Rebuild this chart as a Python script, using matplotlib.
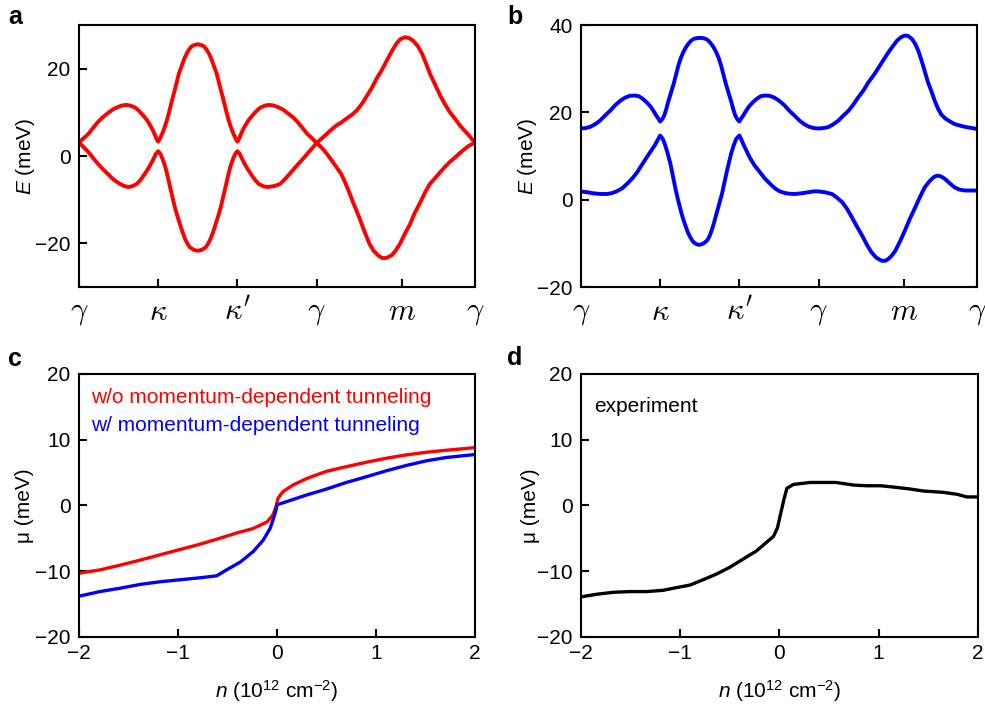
import matplotlib
matplotlib.use("Agg")
from matplotlib import pyplot as plt

plt.rcParams["font.family"] = ["Liberation Sans", "DejaVu Sans"]
plt.rcParams["font.size"] = 15
plt.rcParams["mathtext.fontset"] = "custom"
plt.rcParams["mathtext.rm"] = "Liberation Sans"
plt.rcParams["mathtext.it"] = "Liberation Sans:italic"
plt.rcParams["mathtext.bf"] = "Liberation Sans:bold"

# band path ticks
path_pos = [0, 1, 2, 3, 4.08, 5]
path_labels = [r"$\gamma$", r"$\kappa$", r"$\kappa'$", r"$\gamma$", r"$m$", r"$\gamma$"]

# panel a (w/o momentum-dependent tunneling), two bands crossing at gamma
k_a1 = [0.00, 0.06, 0.12, 0.18, 0.24, 0.30, 0.37, 0.43, 0.50, 0.55,
        0.60, 0.65, 0.71, 0.76, 0.81, 0.86, 0.90, 0.93, 0.96, 0.98,
        1.00, 1.02, 1.05, 1.08, 1.11, 1.14, 1.17, 1.20, 1.23, 1.26,
        1.30, 1.33, 1.36, 1.39, 1.42, 1.46, 1.50, 1.54, 1.58, 1.61,
        1.64, 1.67, 1.70, 1.74, 1.77, 1.80, 1.83, 1.86, 1.89, 1.92,
        1.95, 1.98, 2.00, 2.02, 2.04, 2.07, 2.10, 2.14, 2.19, 2.24,
        2.29, 2.35, 2.40, 2.45, 2.50, 2.57, 2.63, 2.70, 2.76, 2.82,
        2.88, 2.94, 3.00, 3.07, 3.13, 3.19, 3.25, 3.31, 3.36, 3.41,
        3.46, 3.52, 3.57, 3.62, 3.67, 3.72, 3.78, 3.82, 3.86, 3.90,
        3.95, 4.00, 4.05, 4.11, 4.18, 4.24, 4.31, 4.37, 4.43, 4.50,
        4.56, 4.62, 4.68, 4.75, 4.81, 4.87, 4.92, 4.96, 5.00]
E_a1 = [3.1, 4.1, 5.1, 6.5, 7.8, 8.9, 9.9, 10.7, 11.3, 11.6,
        11.7, 11.55, 11.1, 10.3, 9.3, 8.2, 7.0, 6.0, 4.8, 3.9,
        3.3, 3.9, 5.1, 6.5, 8.2, 10.2, 12.4, 14.5, 16.6, 18.8,
        20.8, 22.3, 23.5, 24.4, 25.1, 25.45, 25.6, 25.45, 25.1, 24.4,
        23.5, 22.3, 20.8, 18.8, 16.6, 14.5, 12.4, 10.2, 8.2, 6.5,
        5.1, 3.9, 3.3, 3.9, 4.8, 6.0, 7.0, 8.2, 9.3, 10.3,
        11.1, 11.55, 11.7, 11.6, 11.3, 10.7, 9.9, 8.9, 7.8, 6.5,
        5.1, 4.1, 3.0, 1.8, 0.5, -1.0, -2.5, -4.1, -6.0, -8.2,
        -10.6, -13.2, -15.6, -18.0, -20.2, -21.7, -22.8, -23.3, -23.4, -23.2,
        -22.7, -21.6, -20.2, -18.0, -15.6, -13.0, -10.6, -8.3, -6.4, -5.0,
        -3.7, -2.5, -1.4, -0.3, 0.7, 1.6, 2.3, 2.7, 3.0]
k_a2 = [0.00, 0.06, 0.12, 0.18, 0.24, 0.30, 0.37, 0.43, 0.50, 0.56,
        0.62, 0.67, 0.73, 0.78, 0.83, 0.88, 0.92, 0.95, 0.97, 1.00,
        1.02, 1.035, 1.06, 1.09, 1.12, 1.15, 1.18, 1.21, 1.245, 1.28,
        1.31, 1.34, 1.37, 1.40, 1.45, 1.50, 1.55, 1.60, 1.63, 1.66,
        1.69, 1.72, 1.755, 1.79, 1.82, 1.85, 1.88, 1.91, 1.94, 1.965,
        1.98, 2.00, 2.03, 2.05, 2.08, 2.12, 2.17, 2.22, 2.27, 2.33,
        2.38, 2.46, 2.54, 2.60, 2.66, 2.72, 2.79, 2.85, 2.90, 2.95,
        3.00, 3.07, 3.13, 3.19, 3.25, 3.32, 3.38, 3.45, 3.51, 3.57,
        3.63, 3.70, 3.76, 3.83, 3.89, 3.95, 4.01, 4.06, 4.12, 4.17,
        4.22, 4.28, 4.33, 4.38, 4.43, 4.50, 4.56, 4.62, 4.68, 4.75,
        4.81, 4.87, 4.92, 4.96, 5.00]
E_a2 = [3.1, 2.0, 0.9, -0.5, -1.8, -3.0, -4.2, -5.3, -6.2, -6.8,
        -7.1, -6.95, -6.4, -5.4, -4.1, -2.7, -1.4, -0.3, 0.5, 1.1,
        0.7, 0.2, -0.9, -2.5, -4.7, -7.1, -9.4, -11.7, -13.9, -15.9,
        -17.6, -19.0, -20.1, -20.9, -21.5, -21.7, -21.5, -20.9, -20.1, -19.0,
        -17.6, -15.9, -13.9, -11.7, -9.4, -7.1, -4.7, -2.5, -0.9, 0.2,
        0.7, 1.1, 0.5, -0.3, -1.4, -2.7, -4.1, -5.4, -6.4, -6.95,
        -7.1, -6.9, -6.4, -5.3, -4.1, -2.8, -1.4, -0.2, 0.9, 1.9,
        3.0, 4.1, 5.1, 6.1, 7.0, 7.8, 8.6, 9.5, 10.5, 11.9,
        13.6, 15.7, 17.8, 19.9, 22.0, 24.0, 25.8, 26.8, 27.2, 27.0,
        26.4, 25.1, 23.5, 21.3, 18.9, 16.2, 13.9, 11.9, 10.1, 8.5,
        7.0, 5.8, 4.8, 3.9, 3.1]

# panel b (w/ momentum-dependent tunneling), gapped bands
k_b1 = [0.00, 0.06, 0.12, 0.18, 0.24, 0.30, 0.37, 0.43, 0.50, 0.56,
        0.62, 0.68, 0.73, 0.78, 0.83, 0.88, 0.92, 0.95, 0.98, 1.00,
        1.025, 1.05, 1.075, 1.10, 1.135, 1.17, 1.20, 1.23, 1.26, 1.29,
        1.325, 1.36, 1.39, 1.42, 1.46, 1.50, 1.54, 1.58, 1.61, 1.64,
        1.675, 1.71, 1.74, 1.77, 1.80, 1.83, 1.865, 1.90, 1.925, 1.95,
        1.975, 2.00, 2.02, 2.05, 2.08, 2.12, 2.17, 2.22, 2.27, 2.32,
        2.38, 2.44, 2.50, 2.57, 2.63, 2.70, 2.76, 2.82, 2.88, 2.94,
        3.00, 3.06, 3.12, 3.18, 3.25, 3.31, 3.38, 3.44, 3.50, 3.57,
        3.63, 3.70, 3.76, 3.82, 3.88, 3.94, 3.99, 4.04, 4.09, 4.13,
        4.18, 4.22, 4.26, 4.30, 4.34, 4.38, 4.43, 4.47, 4.51, 4.55,
        4.60, 4.66, 4.72, 4.80, 4.87, 4.94, 5.00]
E_b1 = [16.3, 16.4, 16.7, 17.3, 18.1, 19.2, 20.4, 21.6, 22.7, 23.4,
        23.8, 23.85, 23.7, 23.1, 22.3, 21.3, 20.2, 19.3, 18.5, 17.9,
        18.4, 19.2, 20.6, 22.3, 24.4, 26.5, 28.6, 30.7, 32.4, 33.7,
        34.9, 35.8, 36.4, 36.8, 37.0, 37.05, 37.0, 36.8, 36.4, 35.8,
        34.9, 33.7, 32.4, 30.7, 28.6, 26.5, 24.4, 22.3, 20.6, 19.2,
        18.4, 17.9, 18.5, 19.3, 20.2, 21.3, 22.3, 23.1, 23.7, 23.85,
        23.8, 23.4, 22.7, 21.6, 20.4, 19.2, 18.1, 17.3, 16.7, 16.4,
        16.3, 16.4, 16.6, 17.2, 18.1, 19.2, 20.4, 21.8, 23.4, 25.1,
        26.9, 28.6, 30.3, 32.0, 33.7, 35.2, 36.4, 37.2, 37.6, 37.5,
        36.8, 35.7, 34.1, 31.9, 29.5, 27.0, 24.6, 22.5, 20.8, 19.5,
        18.6, 17.9, 17.3, 16.9, 16.6, 16.4, 16.2]
k_b2 = [0.00, 0.08, 0.16, 0.25, 0.33, 0.39, 0.45, 0.52, 0.58, 0.65,
        0.71, 0.77, 0.83, 0.89, 0.94, 0.97, 1.00, 1.03, 1.06, 1.095,
        1.13, 1.16, 1.19, 1.22, 1.25, 1.285, 1.32, 1.35, 1.38, 1.41,
        1.44, 1.475, 1.51, 1.55, 1.59, 1.62, 1.65, 1.68, 1.71, 1.745,
        1.78, 1.81, 1.84, 1.87, 1.90, 1.93, 1.96, 2.00, 2.025, 2.05,
        2.09, 2.13, 2.19, 2.26, 2.32, 2.39, 2.45, 2.51, 2.58, 2.64,
        2.70, 2.78, 2.87, 2.94, 3.00, 3.08, 3.17, 3.23, 3.30, 3.36,
        3.42, 3.48, 3.55, 3.61, 3.67, 3.73, 3.80, 3.84, 3.88, 3.92,
        3.97, 4.03, 4.09, 4.15, 4.22, 4.28, 4.34, 4.40, 4.45, 4.48,
        4.51, 4.55, 4.60, 4.66, 4.72, 4.78, 4.85, 4.92, 5.00]
E_b2 = [1.9, 1.7, 1.45, 1.3, 1.3, 1.5, 1.9, 2.6, 3.6, 4.9,
        6.3, 8.0, 9.7, 11.3, 12.7, 13.7, 14.7, 14.0, 12.7, 10.6,
        8.2, 5.5, 2.8, 0.4, -1.8, -4.1, -6.0, -7.5, -8.6, -9.5,
        -10.0, -10.3, -10.3, -10.0, -9.4, -8.5, -7.1, -5.3, -3.3, -1.0,
        1.3, 3.8, 6.3, 8.6, 10.8, 12.5, 13.9, 14.7, 13.8, 12.7,
        11.2, 9.7, 7.9, 6.3, 4.9, 3.6, 2.6, 1.9, 1.5, 1.35,
        1.3, 1.45, 1.7, 1.9, 1.9, 1.7, 1.3, 0.5, -0.6, -2.1,
        -4.0, -6.0, -8.2, -10.3, -12.1, -13.3, -14.0, -14.0, -13.6, -12.9,
        -11.7, -9.5, -7.1, -4.5, -1.8, 0.6, 2.8, 4.2, 5.1, 5.4,
        5.5, 5.3, 4.7, 3.7, 2.8, 2.3, 2.1, 2.1, 2.1]

# panel c, chemical potential vs density
n_red = [-2.0, -1.79, -1.59, -1.38, -1.18, -0.98, -0.78, -0.58, -0.41, -0.24,
         -0.10, -0.04, -0.01, 0.01, 0.06, 0.16, 0.30, 0.50, 0.70, 0.91,
         1.11, 1.31, 1.51, 1.71, 2.0]
mu_red = [-10.3, -9.8, -9.1, -8.3, -7.5, -6.7, -5.9, -5.0, -4.2, -3.5,
          -2.5, -1.4, -0.2, 1.1, 2.1, 3.1, 4.1, 5.2, 5.9, 6.6,
          7.2, 7.7, 8.1, 8.4, 8.8]
n_blue = [-2.0, -1.79, -1.59, -1.38, -1.18, -0.98, -0.78, -0.61, -0.51, -0.37,
          -0.24, -0.14, -0.07, -0.04, -0.01, 0.0, 0.10, 0.30, 0.50, 0.70,
          0.91, 1.11, 1.31, 1.51, 1.71, 2.0]
mu_blue = [-13.8, -13.1, -12.6, -12.0, -11.6, -11.3, -11.0, -10.7, -9.8, -8.6,
           -7.0, -5.3, -3.5, -2.2, -0.7, 0.1, 0.6, 1.6, 2.5, 3.5,
           4.4, 5.3, 6.1, 6.8, 7.3, 7.75]

# panel d, experiment
n_exp = [-2.0, -1.84, -1.67, -1.51, -1.34, -1.17, -1.04, -0.90, -0.77, -0.63,
         -0.50, -0.36, -0.23, -0.13, -0.06, -0.02, 0.01, 0.045, 0.075, 0.14,
         0.31, 0.57, 0.75, 0.88, 1.02, 1.15, 1.32, 1.45, 1.65, 1.79, 1.89, 2.0]
mu_exp = [-13.9, -13.5, -13.2, -13.1, -13.1, -12.9, -12.5, -12.1, -11.3, -10.4,
          -9.4, -8.1, -6.9, -5.6, -4.7, -3.4, -1.4, 0.9, 2.6, 3.2,
          3.5, 3.5, 3.1, 3.0, 3.0, 2.8, 2.5, 2.2, 2.0, 1.7, 1.3, 1.3]


def style_axis(ax):
    for s in ax.spines.values():
        s.set_linewidth(1.5)
    ax.tick_params(direction="in", length=6, width=1.5, labelsize=15, pad=6,
                   top=False, right=False)


def band_panel(ax, curves, color, ylim, yticks):
    for k, e in curves:
        ax.plot(k, e, color=color, lw=2.8, solid_joinstyle="round",
                solid_capstyle="round")
    ax.set_xlim(0, 5)
    ax.set_ylim(*ylim)
    ax.set_yticks(yticks)
    ax.set_xticks(path_pos)
    style_axis(ax)
    ax.set_xticklabels(path_labels, math_fontfamily="cm")
    ax.tick_params(axis="x", labelsize=22, pad=7)
    ax.set_ylabel(r"$E$ (meV)", fontsize=15)
    ax.yaxis.set_label_coords(-0.106, 0.5)


def mu_panel(ax):
    ax.set_xlim(-2, 2)
    ax.set_ylim(-20, 20)
    ax.set_xticks([-2, -1, 0, 1, 2])
    ax.set_yticks([-20, -10, 0, 10, 20])
    style_axis(ax)
    ax.tick_params(axis="x", pad=5)
    ax.set_ylabel("μ (meV)", fontsize=15)
    ax.set_xlabel(r"$n$ (10$^{12}$ cm$^{-2}$)", fontsize=15)
    ax.xaxis.set_label_coords(0.5, -0.155)


fig = plt.figure(figsize=(9.85, 7.09), dpi=100)
ax_a = fig.add_axes([0.0802, 0.5952, 0.4020, 0.3695])
ax_b = fig.add_axes([0.5898, 0.5952, 0.4020, 0.3695])
ax_c = fig.add_axes([0.0802, 0.1016, 0.4020, 0.3709])
ax_d = fig.add_axes([0.5898, 0.1016, 0.4030, 0.3709])

band_panel(ax_a, [(k_a1, E_a1), (k_a2, E_a2)], "#ff0000", (-30, 30), [-20, 0, 20])
band_panel(ax_b, [(k_b1, E_b1), (k_b2, E_b2)], "#0000ff", (-20, 40), [-20, 0, 20, 40])

mu_panel(ax_c)
ax_c.plot(n_red, mu_red, color="#ff0000", lw=2.4, solid_joinstyle="round")
ax_c.plot(n_blue, mu_blue, color="#0000ff", lw=2.4, solid_joinstyle="round")
ax_c.text(0.03, 0.909, "w/o momentum-dependent tunneling", color="#ff0000",
          fontsize=15, transform=ax_c.transAxes, va="center")
ax_c.text(0.03, 0.806, "w/ momentum-dependent tunneling", color="#0000ff",
          fontsize=15, transform=ax_c.transAxes, va="center")
ax_c.yaxis.set_label_coords(-0.114, 0.5)

mu_panel(ax_d)
ax_d.plot(n_exp, mu_exp, color="black", lw=2.4, solid_joinstyle="round")
ax_d.text(0.033, 0.875, "experiment", fontsize=15, transform=ax_d.transAxes,
          va="center")
ax_d.yaxis.set_label_coords(-0.103, 0.5)

for lab, x, y in [("a", 8, 17), ("b", 507, 17), ("c", 8, 359), ("d", 507, 358)]:
    fig.text(x / 985, 1 - y / 709, lab, fontsize=18, fontweight="bold",
             va="center", ha="left")

plt.savefig("out.png", dpi=100)
